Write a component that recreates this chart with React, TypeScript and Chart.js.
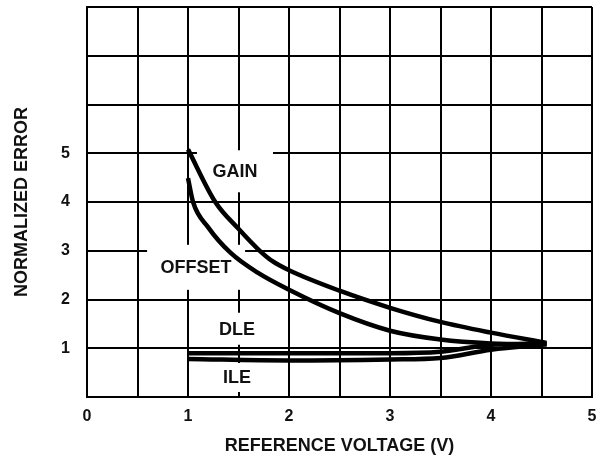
import React, { useEffect, useRef } from 'react';
import { Chart, registerables } from 'chart.js';

Chart.register(...registerables);

// Data (reference voltage in V, normalized error)
const gainX = [1, 1.27, 1.5, 1.7, 1.84, 2, 2.5, 3, 3.5, 4, 4.55];
const gainY = [5.08, 4.0, 3.45, 3.02, 2.78, 2.6, 2.18, 1.83, 1.54, 1.32, 1.11];
const offsetX = [1, 1.05, 1.2, 1.42, 1.69, 2, 2.5, 3, 3.5, 4, 4.55];
const offsetY = [4.49, 4.0, 3.48, 2.96, 2.55, 2.2, 1.72, 1.36, 1.18, 1.1, 1.08];
const dleX = [1, 2, 3, 3.5, 4, 4.55];
const dleY = [0.9, 0.9, 0.9, 0.93, 1.07, 1.1];
const ileX = [1, 2, 3, 3.5, 4, 4.55];
const ileY = [0.78, 0.75, 0.77, 0.8, 0.97, 1.08];

const xTickLabels = ['0', '1', '2', '3', '4', '5'];
const yTickLabels = ['1', '2', '3', '4', '5'];

const seriesNames = ['GAIN', 'OFFSET', 'DLE', 'ILE'];

// Curve label annotations (data coordinates) with white backing boxes (px)
const curveLabels = [
  { text: 'GAIN', x: 1.465, y: 4.63, w: 76, h: 42 },
  { text: 'OFFSET', x: 1.08, y: 2.66, w: 98, h: 45 },
  { text: 'DLE', x: 1.485, y: 1.4, w: 50, h: 32 },
  { text: 'ILE', x: 1.485, y: 0.4, w: 44, h: 29 },
];

const FONT = '"Liberation Sans", Arial, Helvetica, sans-serif';

const toPoints = (xs: number[], ys: number[]) => xs.map((x, i) => ({ x, y: ys[i] }));

const labelPlugin = {
  id: 'curveLabels',
  beforeDatasetsDraw(chart: any) {
    const { ctx, scales } = chart;
    ctx.save();
    ctx.font = `bold 18px ${FONT}`;
    ctx.textAlign = 'center';
    ctx.textBaseline = 'middle';
    for (const l of curveLabels) {
      const px = scales.x.getPixelForValue(l.x);
      const py = scales.y.getPixelForValue(l.y);
      ctx.fillStyle = '#ffffff';
      ctx.fillRect(px - l.w / 2, py - l.h / 2, l.w, l.h);
      ctx.fillStyle = '#111111';
      ctx.fillText(l.text, px, py + 1);
    }
    ctx.restore();
  },
};

export default function App() {
  const ref = useRef<HTMLCanvasElement | null>(null);

  useEffect(() => {
    if (!ref.current) return;
    const series = [
      toPoints(gainX, gainY),
      toPoints(offsetX, offsetY),
      toPoints(dleX, dleY),
      toPoints(ileX, ileY),
    ];
    const chart = new Chart(ref.current, {
      type: 'line',
      data: {
        datasets: series.map((d, i) => ({
          label: seriesNames[i],
          data: d,
          borderColor: '#000000',
          borderWidth: 4.5,
          pointRadius: 0,
          fill: false,
          cubicInterpolationMode: 'monotone' as const,
        })),
      },
      options: {
        responsive: false,
        animation: false,
        devicePixelRatio: 1,
        layout: { padding: { left: 0, right: 15, top: 7, bottom: 0 } },
        plugins: {
          legend: { display: false },
          tooltip: { enabled: false },
        },
        scales: {
          x: {
            type: 'linear',
            min: 0,
            max: 5,
            afterFit: (s: any) => {
              s.height = 64;
              s.paddingLeft = 0;
              s.paddingRight = 0;
            },
            grid: { color: '#000000', lineWidth: 2, drawTicks: false },
            border: { color: '#000000', width: 2 },
            ticks: {
              stepSize: 0.5,
              autoSkip: false,
              maxRotation: 0,
              padding: 10,
              color: '#111111',
              font: { family: FONT, size: 16, weight: 'bold' },
              callback: (v: any) => {
                const n = Number(v);
                return Number.isInteger(n) ? xTickLabels[n] : '';
              },
            },
            title: {
              display: true,
              text: 'REFERENCE VOLTAGE (V)',
              color: '#111111',
              font: { family: FONT, size: 18, weight: 'bold' },
              padding: { top: 0, bottom: 4 },
            },
          },
          y: {
            type: 'linear',
            min: 0,
            max: 8,
            afterFit: (s: any) => {
              s.width = 87;
              s.paddingTop = 0;
              s.paddingBottom = 0;
            },
            grid: { color: '#000000', lineWidth: 2, drawTicks: false },
            border: { color: '#000000', width: 2 },
            ticks: {
              stepSize: 1,
              autoSkip: false,
              padding: 17,
              color: '#111111',
              font: { family: FONT, size: 16, weight: 'bold' },
              callback: (v: any) => {
                const n = Number(v);
                return n >= 1 && n <= 5 ? yTickLabels[n - 1] : '';
              },
            },
            title: {
              display: true,
              text: 'NORMALIZED ERROR',
              color: '#111111',
              font: { family: FONT, size: 18, weight: 'bold' },
              padding: { top: 11, bottom: 0 },
            },
          },
        },
      },
      plugins: [labelPlugin],
    });
    return () => chart.destroy();
  }, []);

  return (
    <canvas
      ref={ref}
      width={607}
      height={461}
      style={{ position: 'absolute', left: 0, top: 0, width: 607, height: 461, background: '#ffffff' }}
    />
  );
}
